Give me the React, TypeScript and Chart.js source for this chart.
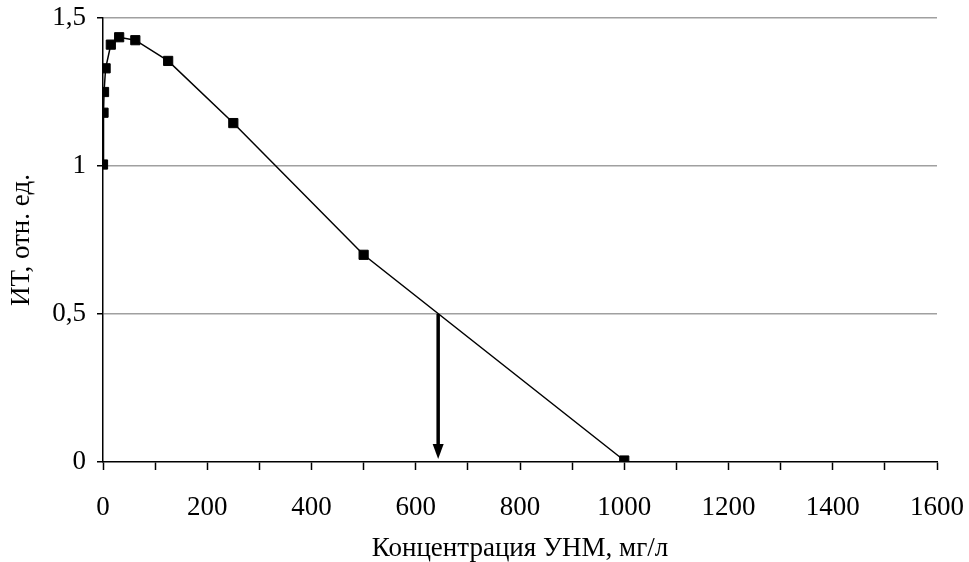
import React, { useEffect, useRef } from 'react';
import { Chart, registerables } from 'chart.js';

Chart.register(...registerables);

// Concentration of the nanomaterial (mg/l) and the toxicity index measured at each
const concentrations = [0, 1, 2, 5, 15, 31, 62, 125, 250, 500, 1000];
const itValues = [1.005, 1.18, 1.25, 1.33, 1.41, 1.435, 1.425, 1.355, 1.145, 0.7, 0.005];

// Axis ranges and steps
const xMin = 0;
const xMax = 1600;
const xMinorStep = 100;
const xLabelStep = 200;
const yMin = 0;
const yMax = 1.5;
const yStep = 0.5;

// Arrow marking where the curve crosses IT = 0,5
const arrowX = 643;
const arrowFrom = 0.5;
const arrowTo = 0.01;

const xTitle = 'Концентрация УНМ, мг/л';
const yTitle = 'ИТ, отн. ед.';

const FONT_FAMILY = "'Liberation Serif', 'Times New Roman', serif";
const FONT_SIZE = 27;

const arrowPlugin = {
  id: 'halfArrow',
  afterDatasetsDraw(chart: any) {
    const { ctx, scales } = chart;
    const x = scales.x.getPixelForValue(arrowX);
    const y0 = scales.y.getPixelForValue(arrowFrom);
    const y1 = scales.y.getPixelForValue(arrowTo);
    const headLen = 15;
    const headHalf = 5.5;
    ctx.save();
    ctx.strokeStyle = '#000';
    ctx.fillStyle = '#000';
    ctx.lineWidth = 3.5;
    ctx.beginPath();
    ctx.moveTo(x, y0);
    ctx.lineTo(x, y1 - headLen + 1);
    ctx.stroke();
    ctx.beginPath();
    ctx.moveTo(x - headHalf, y1 - headLen);
    ctx.lineTo(x + headHalf, y1 - headLen);
    ctx.lineTo(x, y1);
    ctx.closePath();
    ctx.fill();
    ctx.restore();
  },
};

export default function App() {
  const canvasRef = useRef<HTMLCanvasElement | null>(null);

  useEffect(() => {
    if (!canvasRef.current) return;
    const points = concentrations.map((c, i) => ({ x: c, y: itValues[i] }));
    const chart = new Chart(canvasRef.current, {
      type: 'scatter',
      data: {
        datasets: [
          {
            data: points,
            showLine: true,
            borderColor: '#000',
            borderWidth: 1.5,
            backgroundColor: '#000',
            pointStyle: 'rect',
            pointRadius: 6.5,
            pointBorderWidth: 1,
            pointBorderColor: '#000',
            pointBackgroundColor: '#000',
            tension: 0,
          },
        ],
      },
      options: {
        animation: false,
        responsive: false,
        maintainAspectRatio: false,
        layout: { padding: { top: 18, right: 32, left: 0, bottom: 0 } },
        plugins: {
          legend: { display: false },
          tooltip: { enabled: false },
        },
        scales: {
          x: {
            type: 'linear',
            min: xMin,
            max: xMax,
            afterFit: (scale: any) => {
              scale.height = 100;
              scale.paddingLeft = 0;
              scale.paddingRight = 0;
            },
            ticks: {
              stepSize: xMinorStep,
              autoSkip: false,
              maxRotation: 0,
              padding: 22,
              color: '#000',
              font: { family: FONT_FAMILY, size: FONT_SIZE },
              callback: (v: any) => (Number(v) % xLabelStep === 0 ? String(v) : ''),
            },
            grid: {
              drawOnChartArea: false,
              tickLength: 8,
              tickColor: '#000',
              tickWidth: 1.5,
            },
            border: { color: '#000', width: 1.5 },
            title: {
              display: true,
              text: xTitle,
              color: '#000',
              font: { family: FONT_FAMILY, size: FONT_SIZE, lineHeight: 1 },
              padding: 0,
            },
          },
          y: {
            type: 'linear',
            min: yMin,
            max: yMax,
            afterFit: (scale: any) => {
              scale.width = 103;
              scale.paddingTop = 0;
              scale.paddingBottom = 0;
            },
            ticks: {
              stepSize: yStep,
              padding: 11,
              color: '#000',
              font: { family: FONT_FAMILY, size: FONT_SIZE },
              callback: (v: any) => String(v).replace('.', ','),
            },
            grid: {
              color: (c: any) => (c.tick && c.tick.value === 0 ? 'rgba(0,0,0,0)' : '#a0a0a0'),
              lineWidth: 1.5,
              tickLength: 6,
              tickColor: '#000',
              tickWidth: 1.5,
            },
            border: { color: '#000', width: 1.5 },
            title: {
              display: true,
              text: yTitle,
              color: '#000',
              font: { family: FONT_FAMILY, size: FONT_SIZE },
              padding: { top: 6, bottom: 0 },
            },
          },
        },
      },
      plugins: [arrowPlugin],
    });
    return () => chart.destroy();
  }, []);

  return (
    <div style={{ position: 'fixed', left: 0, top: 0, width: 969, height: 562, background: '#fff' }}>
      <canvas ref={canvasRef} width={969} height={562} style={{ width: 969, height: 562 }} />
    </div>
  );
}
